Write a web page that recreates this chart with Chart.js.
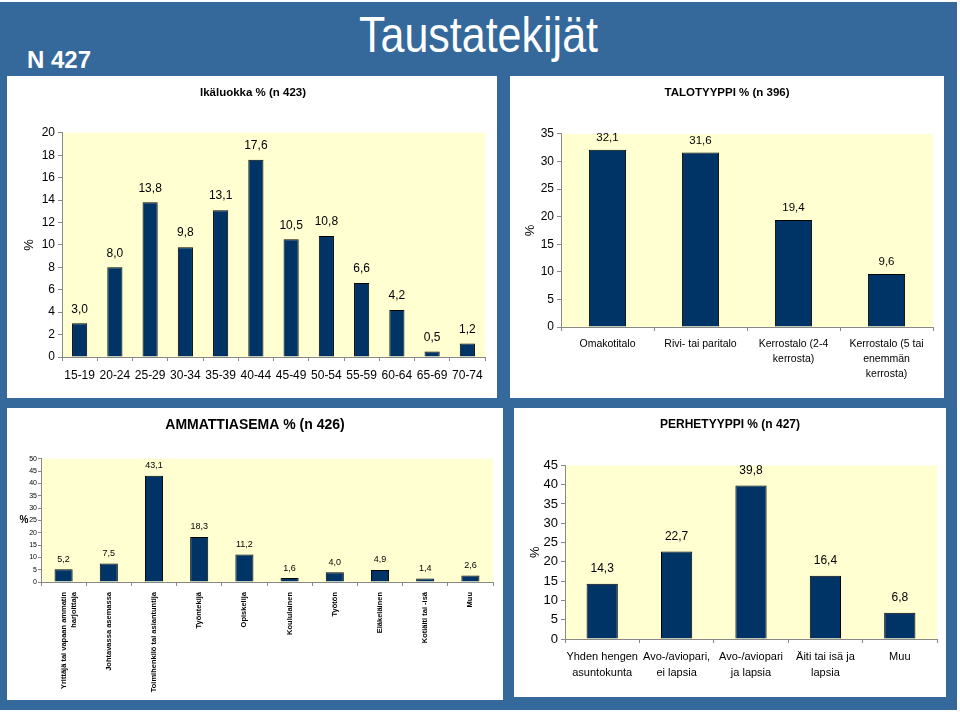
<!DOCTYPE html>
<html>
<head>
<meta charset="utf-8">
<script src="https://cdn.jsdelivr.net/npm/chart.js@4"></script>
<style>
body { margin: 0; background: #fff; width: 960px; height: 715px; position: relative; overflow: hidden; }
#slide { position: absolute; left: 0; top: 2px; width: 957px; height: 708px; background: #35689b; }
.panel { position: absolute; background: #fff; }
.panel canvas { display: block; }
#title { position: absolute; left: 0; top: 10px; width: 957px; text-align: center; color: #fff;
  font-family: "Liberation Sans", Arial, sans-serif; font-size: 50px; line-height: 50px; transform: scaleX(0.86); }
#nbox { position: absolute; left: 27px; top: 48px; color: #fff; font-family: "Liberation Sans", Arial, sans-serif;
  font-weight: bold; font-size: 24px; line-height: 24px; }
</style>
</head>
<body>
<div id="slide"></div>
<div id="title">Taustatekijät</div>
<div id="nbox">N 427</div>
<div class="panel" style="left:7px;top:76px;width:490px;height:322px"><canvas id="age" width="490" height="322"></canvas></div>
<div class="panel" style="left:510px;top:76px;width:434px;height:322px"><canvas id="house" width="434" height="322"></canvas></div>
<div class="panel" style="left:7px;top:408px;width:496px;height:292px"><canvas id="job" width="496" height="292"></canvas></div>
<div class="panel" style="left:514px;top:408px;width:432px;height:289px"><canvas id="family" width="432" height="289"></canvas></div>
<script>
// ikäluokka
const ageLabels = ["15-19", "20-24", "25-29", "30-34", "35-39", "40-44", "45-49", "50-54", "55-59", "60-64", "65-69", "70-74"];
const ageValues = [3.0, 8.0, 13.8, 9.8, 13.1, 17.6, 10.5, 10.8, 6.6, 4.2, 0.5, 1.2];

// talotyyppi
const houseLabels = ["Omakotitalo", "Rivi- tai paritalo", ["Kerrostalo (2-4", "kerrosta)"], ["Kerrostalo (5 tai", "enemmän", "kerrosta)"]];
const houseValues = [32.1, 31.6, 19.4, 9.6];

// ammattiasema
const jobLabels = [["Yrittäjä tai vapaan ammatin", "harjoittaja"], "Johtavassa asemassa", "Toimihenkilö tai asiantuntija",
  "Työntekijä", "Opiskelija", "Koululainen", "Työtön", "Eläkeläinen", "Kotiäiti tai -isä", "Muu"];
const jobValues = [5.2, 7.5, 43.1, 18.3, 11.2, 1.6, 4.0, 4.9, 1.4, 2.6];

// perhetyyppi
const familyLabels = [["Yhden hengen", "asuntokunta"], ["Avo-/aviopari,", "ei lapsia"], ["Avo-/aviopari", "ja lapsia"], ["Äiti tai isä ja", "lapsia"], "Muu"];
const familyValues = [14.3, 22.7, 39.8, 16.4, 6.8];

const FONT = '"Liberation Sans", Arial, sans-serif';
Chart.defaults.font.family = FONT;
Chart.defaults.color = "#000";

// keltainen tausta piirtoalueelle
const plotBg = {
  id: "plotBg",
  beforeDraw(chart) {
    const a = chart.chartArea;
    chart.ctx.save();
    chart.ctx.fillStyle = "#ffffd2";
    chart.ctx.fillRect(a.left, a.top, a.right - a.left, a.bottom - a.top);
    chart.ctx.restore();
  }
};

// arvot pylväiden päälle
const barLabels = {
  id: "barLabels",
  afterDatasetsDraw(chart, args, opts) {
    const ctx = chart.ctx;
    ctx.save();
    ctx.font = opts.font;
    ctx.fillStyle = "#000";
    ctx.textAlign = "center";
    ctx.textBaseline = "middle";
    chart.getDatasetMeta(0).data.forEach((bar, i) => {
      const v = chart.data.datasets[0].data[i];
      ctx.fillText(v.toFixed(1).replace(".", ","), bar.x, bar.y - opts.gap);
    });
    ctx.restore();
  }
};

function makeChart(id, labels, values, c) {
  return new Chart(document.getElementById(id), {
    type: "bar",
    data: {
      labels: labels,
      datasets: [{
        data: values,
        backgroundColor: "#003366",
        borderColor: "#000",
        borderWidth: 1,
        barPercentage: c.barPct,
        categoryPercentage: 1
      }]
    },
    options: {
      responsive: false,
      animation: false,
      layout: { padding: { left: c.padL, right: c.padR, top: 0, bottom: 0 } },
      plugins: {
        legend: { display: false },
        tooltip: { enabled: false },
        title: { display: true, text: c.title, font: c.titleFont, padding: c.titlePad },
        barLabels: { gap: c.gap, font: c.labelFont }
      },
      scales: {
        x: {
          afterFit(s) { s.height = c.xH; },
          grid: { drawOnChartArea: false, drawTicks: true, tickLength: 4, color: "#888" },
          border: { color: "#888" },
          ticks: Object.assign({ padding: c.xPad, font: c.xFont, autoSkip: false, maxRotation: 0 }, c.xTicks || {})
        },
        y: {
          min: 0,
          max: c.yMax,
          afterFit(s) { s.width = c.yW; },
          grid: { drawOnChartArea: false, drawTicks: true, tickLength: c.yTick, color: "#888" },
          border: { color: "#888" },
          ticks: { stepSize: c.yStep, padding: c.yPad, font: c.yFont },
          title: { display: c.yTitlePad !== null, text: "%", font: { size: 13 }, padding: c.yTitlePad || 0 }
        }
      }
    },
    plugins: [plotBg, barLabels].concat(c.extra || [])
  });
}

makeChart("age", ageLabels, ageValues, {
  title: "Ikäluokka % (n 423)", titleFont: { size: 11.5, weight: "bold" }, titlePad: { top: 10, bottom: 33 },
  padL: 14, padR: 12, xH: 41, yW: 41, yMax: 20, yStep: 2, yTick: 4, yPad: 3, yFont: { size: 12 }, yTitlePad: 1,
  xPad: 7, xFont: { size: 12 }, barPct: 0.43, gap: 14, labelFont: "12px " + FONT
});

makeChart("house", houseLabels, houseValues, {
  title: "TALOTYYPPI % (n 396)", titleFont: { size: 11.5, weight: "bold" }, titlePad: { top: 10, bottom: 34 },
  padL: 11, padR: 11, xH: 71, yW: 40, yMax: 35, yStep: 5, yTick: 4, yPad: 3, yFont: { size: 12 }, yTitlePad: 2,
  xPad: 6, xFont: { size: 10.5, lineHeight: 1.43 }, barPct: 0.4, gap: 12, labelFont: "11.5px " + FONT
});

// pystysuora % -merkki ammattiasema-kaavioon
const uprightPercent = {
  id: "uprightPercent",
  afterDraw(chart) {
    const ctx = chart.ctx;
    const s = chart.scales.y;
    ctx.save();
    ctx.font = "bold 10px " + FONT;
    ctx.fillStyle = "#000";
    ctx.textAlign = "center";
    ctx.textBaseline = "middle";
    ctx.fillText("%", s.left + 7, (chart.chartArea.top + chart.chartArea.bottom) / 2);
    ctx.restore();
  }
};

makeChart("job", jobLabels, jobValues, {
  title: "AMMATTIASEMA % (n 426)", titleFont: { size: 14, weight: "bold" }, titlePad: { top: 9, bottom: 25 },
  padL: 10, padR: 10, xH: 118, yW: 24, yMax: 50, yStep: 5, yTick: 3, yPad: 1, yFont: { size: 7 }, yTitlePad: null,
  xPad: 6, xFont: { size: 7.5, weight: "bold", lineHeight: 1.4 }, xTicks: { minRotation: 90, maxRotation: 90 },
  barPct: 0.4, gap: 10, labelFont: "9px " + FONT, extra: [uprightPercent]
});

makeChart("family", familyLabels, familyValues, {
  title: "PERHETYYPPI % (n 427)", titleFont: { size: 12, weight: "bold" }, titlePad: { top: 9, bottom: 34 },
  padL: 9, padR: 9, xH: 58, yW: 42, yMax: 45, yStep: 5, yTick: 4, yPad: 3, yFont: { size: 13 }, yTitlePad: 5,
  xPad: 6, xFont: { size: 11, lineHeight: 1.45 }, barPct: 0.42, gap: 15, labelFont: "12px " + FONT
});
</script>
</body>
</html>
